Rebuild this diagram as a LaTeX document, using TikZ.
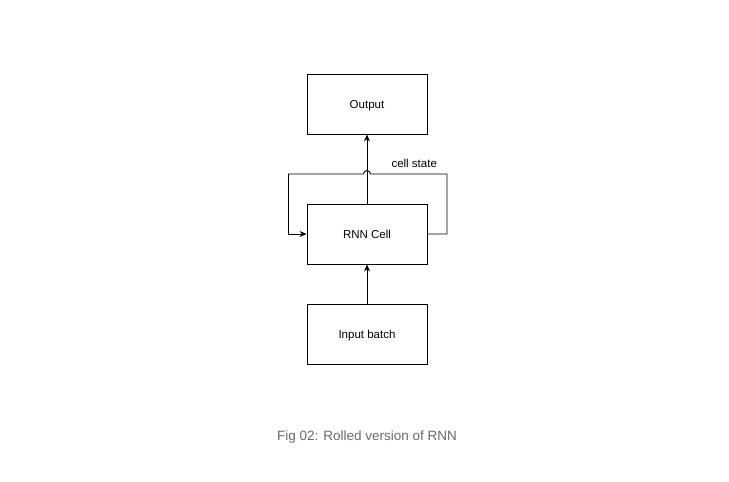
\documentclass[tikz,border=0pt]{standalone}
\usepackage{fontspec}
\setmainfont{Liberation Sans}
\usetikzlibrary{arrows.meta,calc}
\definecolor{capgray}{HTML}{6E6A66}
\begin{document}
\begin{tikzpicture}[x=1pt,y=-1pt,
  box/.style={draw=black,line width=0.9pt,minimum width=120pt,minimum height=60pt,inner sep=0pt,text height=9pt,text depth=0pt,font=\fontsize{11.5}{13}\selectfont},
  conn/.style={line width=0.9pt,-{Stealth[length=7pt,width=6pt]}},
  wire/.style={line width=0.9pt}]
\useasboundingbox[fill=white] (0,0) rectangle (729,482);
\node[box] (out) at (367,104) {Output};
\node[box] (rnn) at (367,234) {RNN Cell};
\node[box] (inp) at (367,334) {Input batch};
\draw[conn] (inp.north) -- (rnn.south);
\draw[conn] (rnn.north) -- (out.south);
\coordinate (tr) at (447,174);
\coordinate (tl) at (288,174);
\draw[wire] (rnn.east) -| (tr) -- ($(rnn.north |- tr)+(3.5,0)$) arc[start angle=0,end angle=-180,radius=3.5] -- (tl);
\draw[conn] (tl) |- (rnn.west);
\node[anchor=west,font=\fontsize{11.5}{13}\selectfont] (cs) at (388,163) {cell state};
\node[text=capgray,font=\fontsize{13.5}{16}\selectfont] (cap) at (367,437) {Fig 02: Rolled version of RNN};
\end{tikzpicture}
\end{document}
